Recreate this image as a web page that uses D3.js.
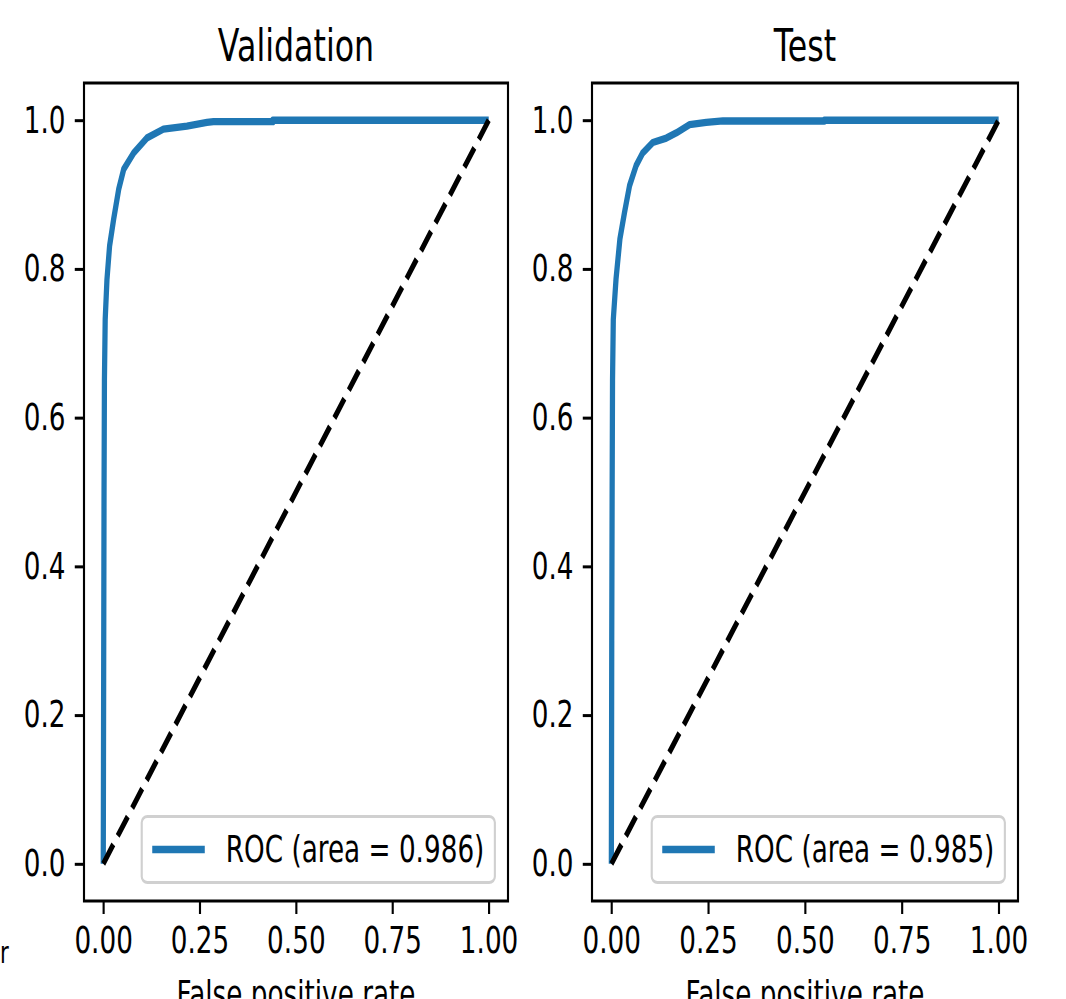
<!DOCTYPE html>
<html>
<head>
<meta charset="utf-8">
<script src="https://cdn.jsdelivr.net/npm/d3@7"></script>
<style>
  html, body { margin: 0; padding: 0; background: #fff; }
  svg { display: block; }
  text { font-family: "DejaVu Sans", sans-serif; fill: #000; }
</style>
</head>
<body>
<div id="chart"></div>
<script>
const panelTitles = ['Validation', 'Test'];
const legendLabels = ['ROC (area = 0.986)', 'ROC (area = 0.985)'];

const valFpr = [0, 0.001, 0.002, 0.003, 0.005, 0.0096, 0.0164, 0.027, 0.040, 0.053, 0.079, 0.113, 0.156, 0.217, 0.269, 0.286, 0.44, 0.44, 1.0];
const valTpr = [0, 0.25, 0.5, 0.65, 0.732, 0.786, 0.831, 0.867, 0.907, 0.934, 0.956, 0.976, 0.988, 0.992, 0.997, 0.998, 0.998, 1.0, 1.0];

const testFpr = [0, 0.001, 0.002, 0.003, 0.005, 0.012, 0.022, 0.034, 0.047, 0.064, 0.081, 0.107, 0.142, 0.168, 0.202, 0.245, 0.288, 0.55, 0.55, 1.0];
const testTpr = [0, 0.3, 0.5, 0.65, 0.732, 0.786, 0.840, 0.876, 0.912, 0.939, 0.956, 0.970, 0.976, 0.983, 0.994, 0.997, 0.999, 0.999, 1.0, 1.0];

const chanceLine = [0, 1];
const xTicks = [0, 0.25, 0.5, 0.75, 1.0];
const yTicks = [0, 0.2, 0.4, 0.6, 0.8, 1.0];

const width = 1066, height = 999;
const sx = 0.71;                 // the picture is squeezed sideways
const W = width / sx;
const fs = 37, titleFs = 44.6;
const blue = '#1f77b4';

const svg = d3.select('#chart')
    .append('svg')
    .attr('width', width)
    .attr('height', height)
    .attr('viewBox', `0 0 ${W} ${height}`)
    .attr('preserveAspectRatio', 'none');

const panels = [
    { left: 84 / sx, right: 508 / sx, fpr: valFpr, tpr: valTpr },
    { left: 592 / sx, right: 1018 / sx, fpr: testFpr, tpr: testTpr }
];
const axTop = 83, axBottom = 901;

panels.forEach((p, i) => drawPanel(p, i));

// stray label fragment at the left edge
svg.append('text')
    .attr('x', 0)
    .attr('y', 963)
    .attr('font-size', 30)
    .text('r');

function drawPanel(p, i) {
    const x = d3.scaleLinear().domain([-0.05, 1.05]).range([p.left, p.right]);
    const y = d3.scaleLinear().domain([-0.05, 1.05]).range([axBottom, axTop]);

    const g = svg.append('g');

    g.append('path')
        .datum(d3.range(p.fpr.length))
        .attr('fill', 'none')
        .attr('stroke', blue)
        .attr('stroke-width', 7.4)
        .attr('stroke-linejoin', 'round')
        .attr('d', d3.line().x(k => x(p.fpr[k])).y(k => y(p.tpr[k])));

    g.append('path')
        .datum(chanceLine)
        .attr('fill', 'none')
        .attr('stroke', '#000')
        .attr('stroke-width', 6.5)
        .attr('stroke-dasharray', '24,10.5')
        .attr('d', d3.line().x(d => x(d)).y(d => y(d)));

    const xAxis = g.append('g')
        .attr('transform', `translate(0,${axBottom})`)
        .call(d3.axisBottom(x).tickValues(xTicks).tickFormat(d3.format('.2f'))
            .tickSize(13).tickPadding(13));
    const yAxis = g.append('g')
        .attr('transform', `translate(${p.left},0)`)
        .call(d3.axisLeft(y).tickValues(yTicks).tickFormat(d3.format('.1f'))
            .tickSize(13).tickPadding(13));

    [xAxis, yAxis].forEach(a => {
        a.select('.domain').remove();
        a.selectAll('line').attr('stroke', '#000').attr('stroke-width', 3);
        a.selectAll('text')
            .attr('font-size', fs)
            .attr('font-family', '"DejaVu Sans", sans-serif')
            .attr('fill', '#000');
    });

    g.append('rect')
        .attr('x', p.left)
        .attr('y', axTop)
        .attr('width', p.right - p.left)
        .attr('height', axBottom - axTop)
        .attr('fill', 'none')
        .attr('stroke', '#000')
        .attr('stroke-width', 3);

    g.append('text')
        .attr('x', (p.left + p.right) / 2)
        .attr('y', 61)
        .attr('text-anchor', 'middle')
        .attr('font-size', titleFs)
        .text(panelTitles[i]);

    g.append('text')
        .attr('x', (p.left + p.right) / 2)
        .attr('y', 1007)
        .attr('text-anchor', 'middle')
        .attr('font-size', fs)
        .text('False positive rate');

    // legend, lower right
    const lg = g.append('g');
    const box = lg.append('rect');
    const label = lg.append('text')
        .attr('font-size', fs)
        .text(legendLabels[i]);
    const textLen = label.node().getComputedTextLength();
    const lw = 0.4 * fs + 2 * fs + 0.8 * fs + textLen + 0.4 * fs;
    const lh = 66;
    const lx = p.right - 0.5 * fs - lw;
    const ly = axBottom - 18.5 - lh;
    box.attr('x', lx).attr('y', ly)
        .attr('width', lw).attr('height', lh)
        .attr('rx', 8).attr('ry', 6)
        .attr('fill', 'rgba(255,255,255,0.8)')
        .attr('stroke', '#d0d0d0')
        .attr('stroke-width', 3);
    lg.append('line')
        .attr('x1', lx + 0.4 * fs)
        .attr('x2', lx + 2.4 * fs)
        .attr('y1', ly + lh / 2)
        .attr('y2', ly + lh / 2)
        .attr('stroke', blue)
        .attr('stroke-width', 7.4);
    label.attr('x', lx + 3.2 * fs)
        .attr('y', ly + lh / 2)
        .attr('dy', '0.35em');
}
</script>
</body>
</html>
